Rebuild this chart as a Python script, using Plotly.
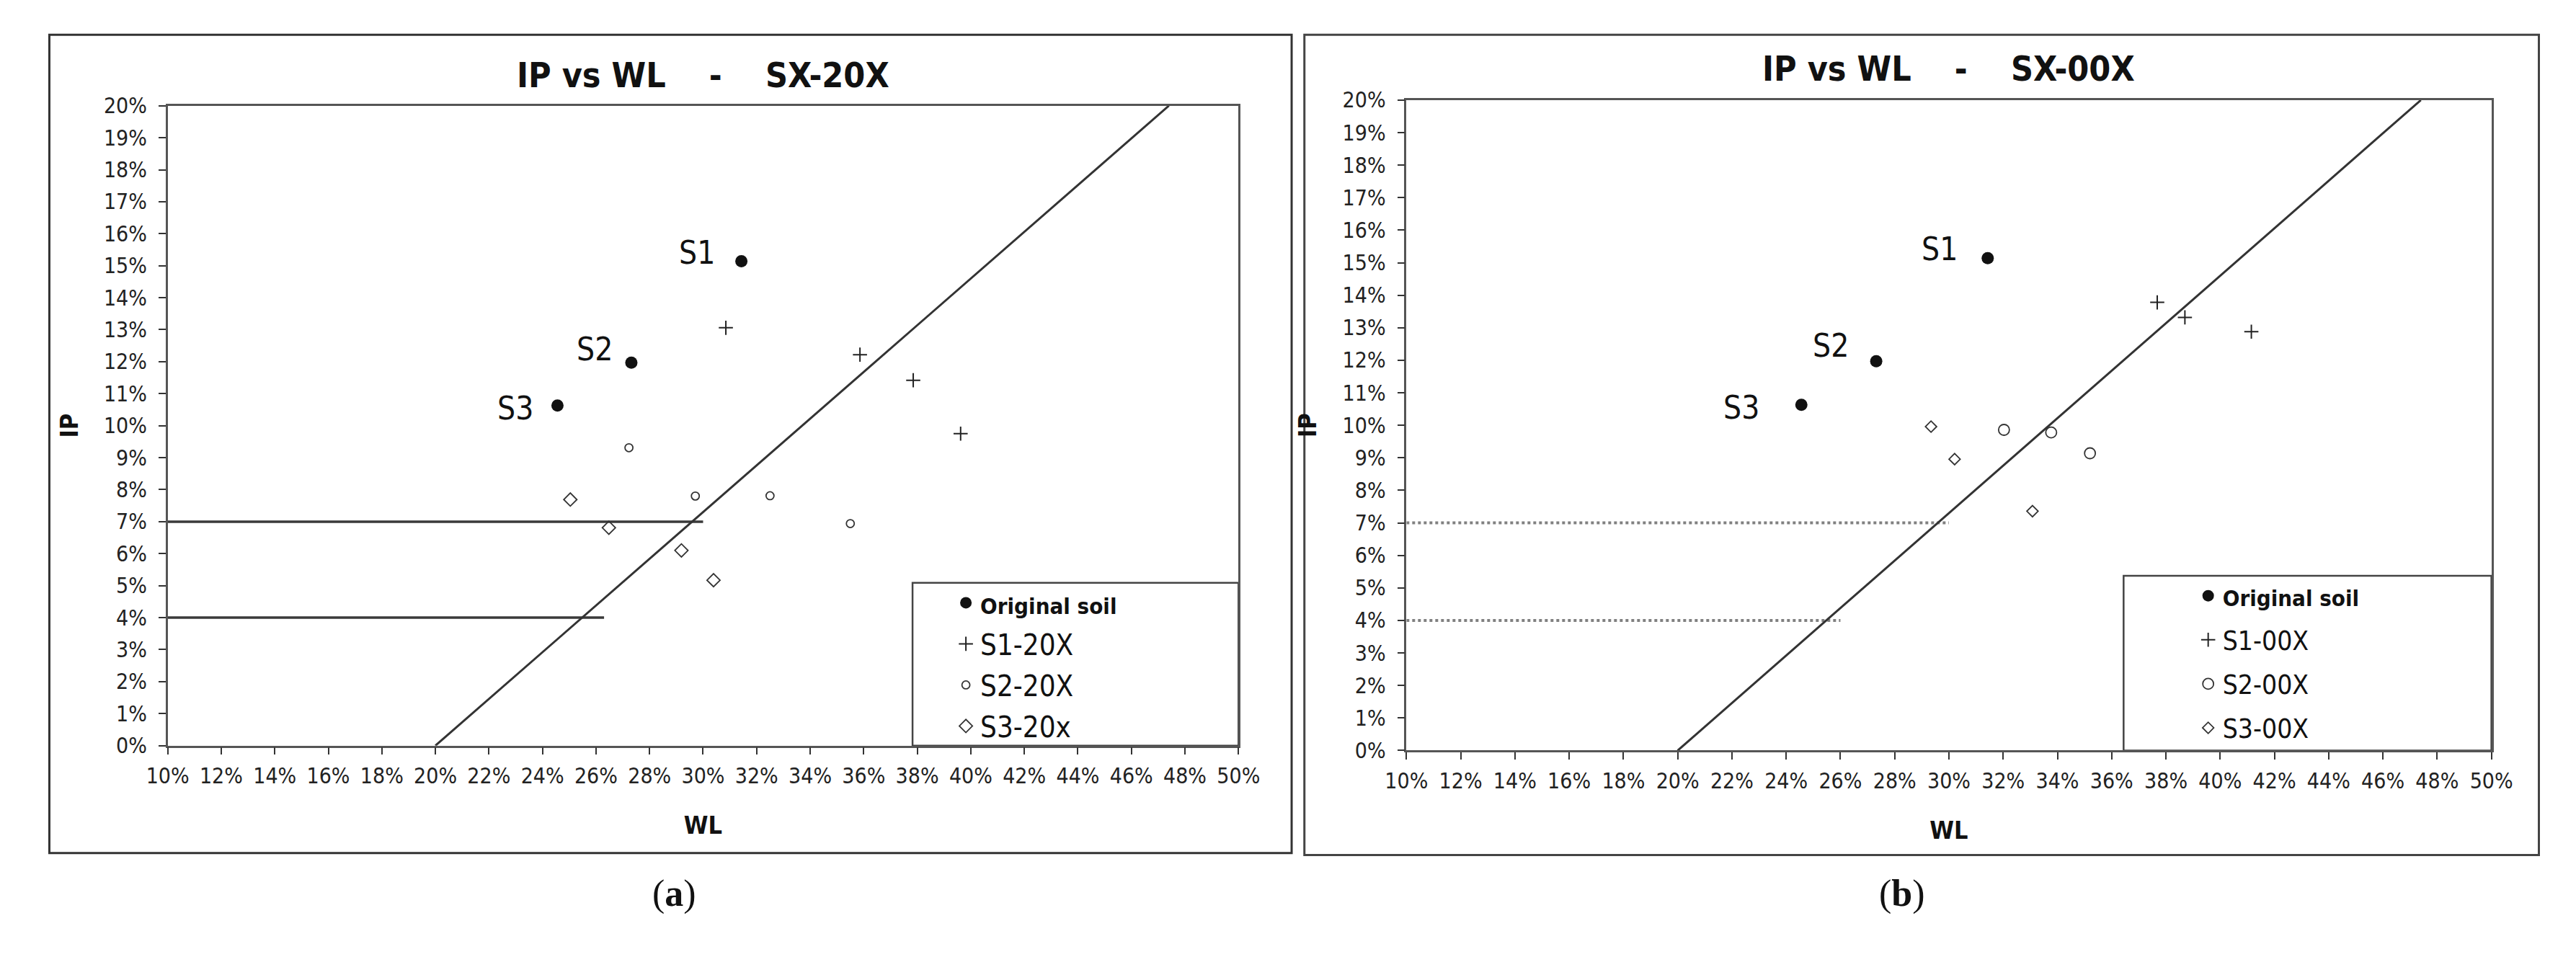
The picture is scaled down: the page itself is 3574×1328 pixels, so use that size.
import plotly.graph_objects as go

# ---- data (WL and IP in %) ----
orig_labels = ["S1", "S2", "S3"]
wl_original = [31.43, 27.32, 24.56]
ip_original = [15.14, 11.97, 10.63]

# panel (a) SX-20X
wl_s1_20x = [30.85, 35.86, 37.85, 39.62]
ip_s1_20x = [13.06, 12.22, 11.42, 9.75]
wl_s2_20x = [27.23, 29.71, 32.50, 35.50]
ip_s2_20x = [9.31, 7.80, 7.81, 6.94]
wl_s3_20x = [25.04, 26.48, 29.19, 30.39]
ip_s3_20x = [7.69, 6.81, 6.10, 5.17]

# panel (b) SX-00X
wl_s1_00x = [37.68, 38.70, 41.15]
ip_s1_00x = [13.78, 13.32, 12.88]
wl_s2_00x = [32.03, 33.77, 35.20]
ip_s2_00x = [9.86, 9.78, 9.14]
wl_s3_00x = [29.34, 30.21, 33.08]
ip_s3_00x = [9.96, 8.96, 7.36]

# A-line and the 7% / 4% limit lines
aline_wl = [20, 47.4]
aline_ip = [0, 20]
limit_ip = [7, 4]
limit_wl_end_a = [30.0, 26.3]
limit_wl_end_b = [30.0, 26.0]

x_ticks = list(range(10, 51, 2))
x_ticktext = [f"{v}%" for v in x_ticks]
y_ticks = list(range(0, 21, 1))
y_ticktext = [f"{v}%" for v in y_ticks]

W, H = 3574, 1328
SANS = "DejaVu Sans Condensed, DejaVu Sans"
TICK_FONT = dict(family=SANS, size=30, color="#222")


def px(x):
    return x / W


def py(y):
    return 1 - y / H


panels = [
    dict(
        xa="x", ya="y", legend="legend", title="SX-20X",
        s1=(wl_s1_20x, ip_s1_20x, "S1-20X"),
        s2=(wl_s2_20x, ip_s2_20x, "S2-20X", 11),
        s3=(wl_s3_20x, ip_s3_20x, "S3-20x", 14),
        limit_end=limit_wl_end_a, limit_style=dict(color="#3a3a3a", width=3.5),
        label_off=[(-35, 12), (-24, 19), (-31, -4)],
    ),
    dict(
        xa="x2", ya="y2", legend="legend2", title="SX-00X",
        s1=(wl_s1_00x, ip_s1_00x, "S1-00X"),
        s2=(wl_s2_00x, ip_s2_00x, "S2-00X", 15),
        s3=(wl_s3_00x, ip_s3_00x, "S3-00X", 12),
        limit_end=limit_wl_end_b, limit_style=dict(color="#808080", width=4, dash="dot"),
        label_off=[(-40, 13), (-36, 22), (-56, -4)],
    ),
]

fig = go.Figure()

for k, p in enumerate(panels):
    common = dict(xaxis=p["xa"], yaxis=p["ya"], legend=p["legend"])
    # limit lines
    for ip, wl_end in zip(limit_ip, p["limit_end"]):
        fig.add_trace(go.Scatter(x=[10, wl_end], y=[ip, ip], mode="lines",
                                 line=p["limit_style"], showlegend=False, hoverinfo="skip",
                                 **common))
    # A-line
    fig.add_trace(go.Scatter(x=aline_wl, y=aline_ip, mode="lines",
                             line=dict(color="#333", width=3), showlegend=False,
                             hoverinfo="skip", **common))
    fig.add_trace(go.Scatter(
        x=wl_original, y=ip_original, mode="markers",
        name="<b><span style='font-size:31px'>Original soil</span></b>",
        legendgroup=f"o{k}",
        marker=dict(symbol="circle", size=17, color="#111"), **common))
    wl, ip, nm = p["s1"]
    fig.add_trace(go.Scatter(x=wl, y=ip, mode="markers", name=nm, legendgroup=f"a{k}",
                             marker=dict(symbol="cross-thin", size=14,
                                         line=dict(color="#222", width=2)), **common))
    wl, ip, nm, sz = p["s2"]
    fig.add_trace(go.Scatter(x=wl, y=ip, mode="markers", name=nm, legendgroup=f"b{k}",
                             marker=dict(symbol="circle-open", size=sz, color="#333",
                                         line=dict(width=1.8)), **common))
    wl, ip, nm, sz = p["s3"]
    fig.add_trace(go.Scatter(x=wl, y=ip, mode="markers", name=nm, legendgroup=f"c{k}",
                             marker=dict(symbol="diamond-open", size=sz, color="#333",
                                         line=dict(width=1.8)), **common))
    # S1/S2/S3 labels
    for lab, x, y, (dx, dy) in zip(orig_labels, wl_original, ip_original, p["label_off"]):
        fig.add_annotation(x=x, y=y, xref=p["xa"], yref=p["ya"], text=lab, showarrow=False,
                           xanchor="right", yanchor="middle", xshift=dx, yshift=dy,
                           font=dict(family=SANS, size=44, color="#111"))

axis_common = dict(showgrid=False, zeroline=False, showline=True, mirror=True,
                   linecolor="#555", linewidth=2.5, ticks="outside", ticklen=10,
                   tickwidth=2, tickcolor="#333", tickfont=TICK_FONT)

dom = {
    "a": dict(x=[px(198), px(1709)], y=[py(1037), py(125)]),
    "b": dict(x=[px(1946), px(3477)], y=[py(1044), py(117)]),
}

axis_title_font = dict(family=SANS, size=34, color="#111")

fig.update_layout(
    width=W, height=H, margin=dict(l=0, r=0, t=0, b=0),
    paper_bgcolor="white", plot_bgcolor="white",
    xaxis=dict(domain=dom["a"]["x"], range=[10, 50], tickvals=x_ticks, ticktext=x_ticktext,
               anchor="y", ticklabelstandoff=4,
               title=dict(text="<b>WL</b>", font=axis_title_font, standoff=40), **axis_common),
    yaxis=dict(domain=dom["a"]["y"], range=[0, 20], tickvals=y_ticks, ticktext=y_ticktext,
               anchor="x", ticklabelstandoff=10,
               title=dict(text="<b>IP</b>", font=axis_title_font, standoff=26), **axis_common),
    xaxis2=dict(domain=dom["b"]["x"], range=[10, 50], tickvals=x_ticks, ticktext=x_ticktext,
                anchor="y2", ticklabelstandoff=4,
                title=dict(text="<b>WL</b>", font=axis_title_font, standoff=40), **axis_common),
    yaxis2=dict(domain=dom["b"]["y"], range=[0, 20], tickvals=y_ticks, ticktext=y_ticktext,
                anchor="x2", ticklabelstandoff=10,
                title=dict(text="<b>IP</b>", font=axis_title_font, standoff=26), **axis_common),
    legend=dict(x=px(1304), y=py(800), xanchor="left", yanchor="top",
                bgcolor="rgba(0,0,0,0)", borderwidth=0, tracegroupgap=2,
                font=dict(family=SANS, size=40, color="#111")),
    legend2=dict(x=px(3057), y=py(792), xanchor="left", yanchor="top",
                 bgcolor="rgba(0,0,0,0)", borderwidth=0, tracegroupgap=10,
                 font=dict(family=SANS, size=37, color="#111")),
    showlegend=True,
)

# panel frames and legend boxes
fig.add_shape(type="rect", xref="paper", yref="paper", x0=px(31), x1=px(1784),
              y0=py(1190), y1=py(24), line=dict(color="#333", width=3))
fig.add_shape(type="rect", xref="paper", yref="paper", x0=px(1802), x1=px(3544),
              y0=py(1193), y1=py(24), line=dict(color="#444", width=3))
fig.add_shape(type="rect", xref="x domain", yref="y domain", x0=0.6956, x1=1, y0=0, y1=0.2544,
              line=dict(color="#444", width=2.5), fillcolor="white", layer="below")
fig.add_shape(type="rect", xref="x2 domain", yref="y2 domain", x0=0.661, x1=1, y0=0, y1=0.2686,
              line=dict(color="#444", width=2.5), fillcolor="white", layer="below")

# chart titles and panel captions
for p, ty in zip(panels, [81, 72]):
    fig.add_annotation(xref=f"{p['xa']} domain", yref="paper", x=0.5, y=py(ty), yanchor="middle",
                       text="<b>IP vs WL\u00a0\u00a0\u00a0\u00a0-\u00a0\u00a0\u00a0\u00a0" + p["title"] + "</b>",
                       showarrow=False, font=dict(family=SANS, size=48, color="#111"))

fig.add_annotation(xref="paper", yref="paper", x=px(880), y=py(1280), text="(<b>a</b>)",
                   showarrow=False, font=dict(family="Liberation Serif", size=52, color="#111"))
fig.add_annotation(xref="paper", yref="paper", x=px(2680), y=py(1280), text="(<b>b</b>)",
                   showarrow=False, font=dict(family="Liberation Serif", size=52, color="#111"))

fig.write_html("out.html")
